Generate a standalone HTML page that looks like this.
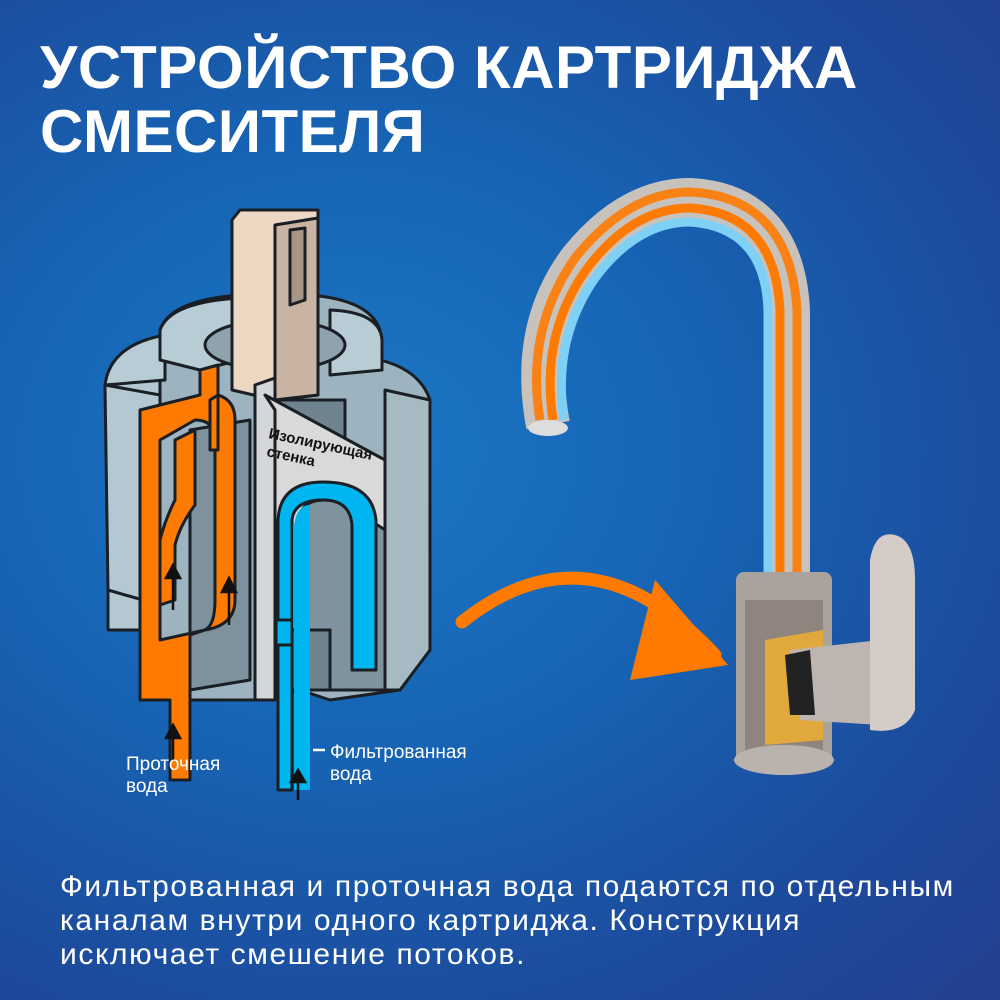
<!DOCTYPE html>
<html><head><meta charset="utf-8"><style>
html,body{margin:0;padding:0}
body{width:1000px;height:1000px;overflow:hidden;background:radial-gradient(ellipse at 35% 45%,#1b78c6 0%,#1763b3 40%,#1d4a9c 75%,#233f8e 100%);font-family:"Liberation Sans","DejaVu Sans",sans-serif;position:relative}
h1{position:absolute;left:40px;top:36px;margin:0;color:#fff;font-size:60px;line-height:64px;font-weight:900;letter-spacing:0.5px}
.bot{position:absolute;left:60px;top:870px;color:#fff;font-size:30px;line-height:34px;letter-spacing:1.6px}
svg{position:absolute;left:0;top:0}
</style></head><body>
<h1>УСТРОЙСТВО КАРТРИДЖА<br>СМЕСИТЕЛЯ</h1>
<svg width="1000" height="1000" viewBox="0 0 1000 1000" font-family="Liberation Sans, DejaVu Sans, sans-serif">
<g stroke="#1a1f25" stroke-width="3" stroke-linejoin="round">
<path d="M108 380 Q110 350 165 340 L165 630 L108 630 Z" fill="#b4c8d2"/>
<path d="M160 395 L160 700 L255 700 L300 690 L330 700 L400 690 L430 650 L430 400 Q420 370 380 360 L380 330 Q370 300 310 295 L240 295 Q170 300 160 330 Z" fill="#9db3bf"/>
<path d="M105 385 Q110 345 165 335 L165 380 Z" fill="#b8ccd6"/>
<path d="M160 330 Q170 302 240 298 L240 360 L200 370 L160 360 Z" fill="#b8ccd6"/>
<path d="M330 310 Q380 312 382 340 L382 370 L330 375 Z" fill="#b8ccd6"/>
<ellipse cx="275" cy="345" rx="70" ry="25" fill="#8ea3ad"/>
<path d="M190 430 L250 420 L250 680 L190 690 Z" fill="#7d929c"/>
<path d="M255 400 L345 400 L345 690 L255 690 Z" fill="#6f848e"/>
<path d="M385 390 L430 400 L430 650 L400 690 L385 690 Z" fill="#a6bac4"/>
<path d="M105 385 L108 590 L160 605 L160 395 Z" fill="#b4c8d2"/>
<path d="M232 220 L240 210 L318 210 L318 395 L275 400 L232 390 Z" fill="#ecd7c2"/>
<path d="M275 225 L318 218 L318 395 L275 400 Z" fill="#c9b3a2"/>
<path d="M290 230 L305 228 L305 300 L290 305 Z" fill="#a99585"/>
<path d="M255 385 L275 378 L275 700 L255 700 Z" fill="#d4d6d8"/>
<path d="M265 395 L385 460 L385 690 L330 690 L330 630 L275 630 L275 410 Z" fill="#d9d9d9"/>
<path d="M300 520 Q300 500 325 500 Q350 500 355 520 L360 640 L370 640 L370 520 L385 530 L385 690 L330 690 L330 630 L300 630 Z" fill="#7e939d"/>
<path d="M292 790 L292 520 Q294 500 323 500 Q350 500 352 525 L352 670 L376 670 L376 520 Q372 482 323 482 Q280 482 278 520 L278 790 Z" fill="#00b6f0"/>
<path d="M294 790 L294 525 Q297 505 310 505 L310 790 Z" fill="#00b6f0" stroke="none"/>
<path d="M276 620 L292 620 L292 645 L276 645 Z" fill="#00b6f0"/>
<path d="M140 410 L200 395 L200 370 L218 365 L218 395 Q235 400 235 420 L235 600 Q235 625 205 630 L190 635 L190 780 L170 780 L170 700 L140 700 Z M160 440 L160 640 L205 630 Q215 625 215 600 L215 440 Q215 420 195 420 Z" fill="#ff7a00" fill-rule="evenodd"/>
<path d="M175 440 L175 500 Q165 520 160 540 L160 605 L175 600 L175 545 Q180 525 195 505 L195 430 Z" fill="#ff7a00"/>
<path d="M218 395 L218 450 L210 450 L210 400 Z" fill="#ff7a00"/>
</g>
<g stroke="#111" stroke-width="2.5" fill="#111">
<line x1="173" y1="760" x2="173" y2="735"/><path d="M166 738 L173 725 L180 738 Z"/>
<line x1="173" y1="610" x2="173" y2="575"/><path d="M166 578 L173 565 L180 578 Z"/>
<line x1="229" y1="625" x2="229" y2="590"/><path d="M222 592 L229 578 L236 592 Z"/>
<line x1="298" y1="800" x2="298" y2="780"/><path d="M291 782 L298 770 L305 782 Z"/>
<line x1="313" y1="750" x2="325" y2="750" stroke="#fff"/>
</g>
<text transform="translate(268 438) rotate(12)" font-size="15" font-weight="bold" fill="#111">Изолирующая</text>
<text transform="translate(266 456) rotate(12)" font-size="15" font-weight="bold" fill="#111">стенка</text>
<g fill="#fff" font-size="19"><text x="126" y="770">Проточная</text><text x="126" y="792">вода</text>
<text x="330" y="758">Фильтрованная</text><text x="330" y="780">вода</text></g>
<path d="M462 622 Q590 520 715 655" fill="none" stroke="#ff7a00" stroke-width="13" stroke-linecap="round"/>
<path d="M655 580 L728 665 L630 680 Z" fill="#ff7a00"/>
<path d="M548 425 Q530 330 580 262 Q630 200 690 200 Q782 205 788 310 L788 590" fill="none" stroke="#c8c2bd" stroke-width="44"/>
<path d="M540 420 Q525 330 575 258 Q628 192 690 192 Q790 197 797 310 L797 590" fill="none" stroke="#ff7a00" stroke-width="9" opacity="0.9"/>
<path d="M553 420 Q540 335 586 270 Q632 208 690 208 Q775 213 780 310 L780 590" fill="none" stroke="#ff7a00" stroke-width="9"/>
<path d="M564 420 Q552 340 595 278 Q637 222 690 222 Q765 227 768 310 L768 590" fill="none" stroke="#7fd0f5" stroke-width="9"/>
<ellipse cx="548" cy="428" rx="20" ry="8" fill="#ddd"/>
<rect x="736" y="572" width="96" height="190" rx="8" fill="#aaa29d"/>
<path d="M745 600 L823 600 L823 755 L745 755 Z" fill="#8f857e"/>
<path d="M765 640 L823 630 L823 740 L765 745 Z" fill="#e1a93c"/>
<ellipse cx="784" cy="760" rx="50" ry="15" fill="#b9b2ad"/>
<path d="M790 650 L880 640 L880 725 L800 720 Z" fill="#bdb5b0"/>
<path d="M785 655 L810 650 L815 715 L790 715 Z" fill="#222"/>
<path d="M870 560 Q875 530 895 535 Q915 540 915 580 L915 710 Q905 735 870 730 Z" fill="#d3ccc7"/>
</svg>
<div class="bot">Фильтрованная и проточная вода подаются по отдельным<br>каналам внутри одного картриджа. Конструкция<br>исключает смешение потоков.</div>
</body></html>
